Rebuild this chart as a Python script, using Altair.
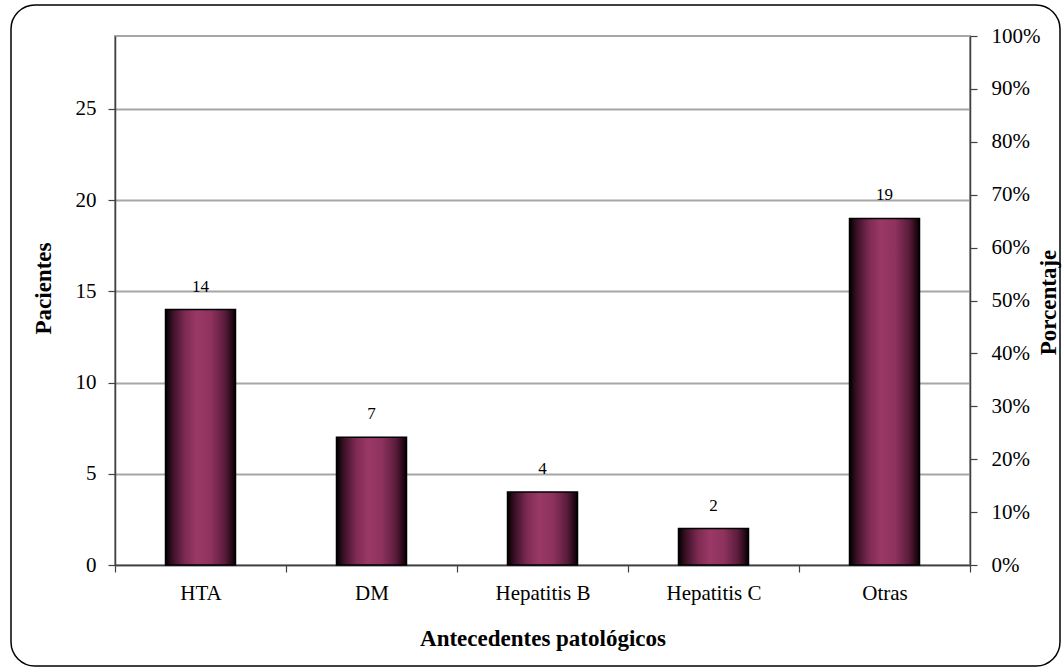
import altair as alt
import pandas as pd

categorias = ["HTA", "DM", "Hepatitis B", "Hepatitis C", "Otras"]
pacientes = [14, 7, 4, 2, 19]
porcentaje_ticks = [0, 0.1, 0.2, 0.3, 0.4, 0.5, 0.6, 0.7, 0.8, 0.9, 1.0]
pacientes_ticks = [0, 5, 10, 15, 20, 25]

df = pd.DataFrame({"Antecedente": categorias, "Pacientes": pacientes})
df_pct = pd.DataFrame({"pct": [0.0, 1.0]})
df_frame = pd.DataFrame({"k": [0]})

FONT = "Liberation Serif"
W, H = 855, 529
LBL = 21
TTL = 23

grad = alt.Gradient(
    gradient="linear",
    x1=0, x2=1, y1=0, y2=0,
    stops=[
        alt.GradientStop(color="#000000", offset=0.0),
        alt.GradientStop(color="#3a1026", offset=0.1),
        alt.GradientStop(color="#7e2a53", offset=0.28),
        alt.GradientStop(color="#9a3866", offset=0.45),
        alt.GradientStop(color="#8e325e", offset=0.65),
        alt.GradientStop(color="#5a1c3a", offset=0.85),
        alt.GradientStop(color="#1a0410", offset=0.97),
        alt.GradientStop(color="#000000", offset=1.0),
    ],
)

x_enc = alt.X(
    "Antecedente:N",
    sort=categorias,
    scale=alt.Scale(paddingInner=0, paddingOuter=0),
    axis=alt.Axis(
        title="Antecedentes patológicos",
        labelAngle=0,
        tickBand="extent",
        tickSize=7,
        labelPadding=10,
        labelFontSize=LBL,
        titleFontSize=TTL,
        titleFontWeight="bold",
        titleY=80,
        titleBaseline="alphabetic",
        grid=False,
        domainColor="#404040",
        tickColor="#404040",
        domainWidth=1.5,
        tickWidth=1.2,
    ),
)

y_enc = alt.Y(
    "Pacientes:Q",
    scale=alt.Scale(domain=[0, 29], nice=False),
    axis=alt.Axis(
        title="Pacientes",
        values=pacientes_ticks,
        tickSize=7,
        labelPadding=12,
        labelFontSize=LBL,
        titleFontSize=TTL,
        titleFontWeight="bold",
        titleX=-72,
        titleY=252,
        titleBaseline="middle",
        gridColor="#a6a6a6",
        gridWidth=2,
        domainColor="#404040",
        tickColor="#404040",
        domainWidth=1.5,
        tickWidth=1.2,
    ),
)

bars = alt.Chart(df).mark_bar(
    size=70, color=grad, stroke="#000000", strokeWidth=1.5
).encode(x=x_enc, y=y_enc)

labels = alt.Chart(df).mark_text(
    font=FONT, fontSize=17, dy=-18, baseline="alphabetic", color="#000000"
).encode(
    x=alt.X("Antecedente:N", sort=categorias),
    y=alt.Y("Pacientes:Q"),
    text=alt.Text("Pacientes:Q"),
)

left = alt.layer(bars, labels)

pct = alt.Chart(df_pct).mark_point(opacity=0).encode(
    y=alt.Y(
        "pct:Q",
        scale=alt.Scale(domain=[0, 1], nice=False),
        axis=alt.Axis(
            orient="right",
            title="Porcentaje",
            format=".0%",
            values=porcentaje_ticks,
            tickSize=7,
            labelPadding=14,
            labelFontSize=LBL,
            titleFontSize=TTL,
            titleFontWeight="bold",
            titleAngle=-90,
            titleX=78,
            titleY=266,
            titleBaseline="middle",
            grid=False,
            domainColor="#404040",
            tickColor="#404040",
            domainWidth=1.5,
            tickWidth=1.2,
        ),
    )
)

frame = alt.Chart(df_frame).mark_rect(
    fill=None, fillOpacity=0, stroke="#000000", strokeWidth=1.5, cornerRadius=24
).encode(
    x=alt.value(-104), x2=alt.value(945), y=alt.value(-31), y2=alt.value(630)
)

chart = (
    alt.layer(frame, left, pct)
    .resolve_scale(y="independent")
    .properties(
        width=W,
        height=H,
        autosize=alt.AutoSizeParams(type="none"),
        padding={"left": 115, "top": 36, "right": 92, "bottom": 103},
        background="#ffffff",
    )
    .configure_view(stroke="#a6a6a6", strokeWidth=2)
    .configure_axis(labelFont=FONT, titleFont=FONT, labelColor="#000000", titleColor="#000000")
    .configure_text(font=FONT)
)

chart.save("out.html", embed_options={"renderer": "svg", "actions": False})
